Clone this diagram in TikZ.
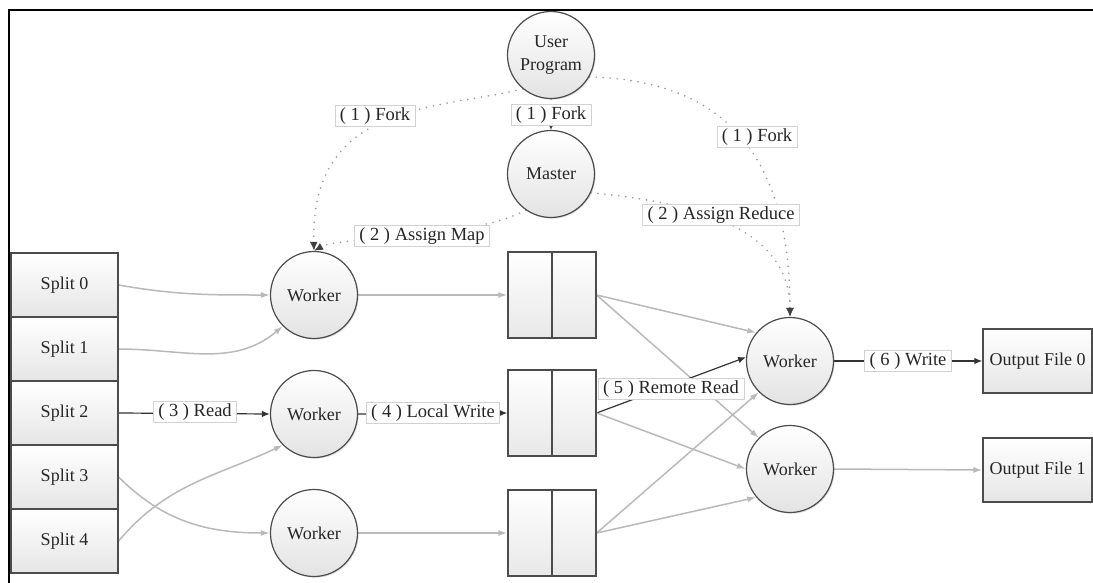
\documentclass[tikz,border=0pt]{standalone}
\usepackage{fontspec}
\setmainfont{Liberation Serif}
\usetikzlibrary{arrows.meta,shadows,backgrounds}
\begin{document}
\begin{tikzpicture}[x=1pt,y=-1pt,
  every node/.style={font=\fontsize{18}{23}\selectfont, text=black!85},
  proc/.style={circle, minimum size=87pt, inner sep=0pt, draw=black!70, line width=1.2pt,
    top color=white, bottom color=gray!22,
    drop shadow={shadow xshift=1.2pt,shadow yshift=-1.2pt,opacity=0.25}},
  splitbox/.style={rectangle, minimum width=107pt, minimum height=64pt, inner sep=0pt,
    draw=black!70, line width=1.3pt, top color=white, bottom color=gray!20},
  buf/.style={rectangle, minimum width=88pt, minimum height=86pt, inner sep=0pt,
    draw=black!70, line width=1.3pt, top color=white, bottom color=gray!18},
  outbox/.style={splitbox, minimum width=109pt},
  lab/.style={rectangle, draw=gray!35, line width=0.6pt, fill=white, inner xsep=5pt,
    inner ysep=2pt, font=\fontsize{18.5}{21}\selectfont},
  flow/.style={draw=gray!55, line width=1.5pt, -{Latex[length=9pt,width=6pt]}},
  mainline/.style={draw=black!80, line width=1.2pt, -{Latex[length=8pt,width=6.5pt]}},
  ctrl/.style={draw=gray!80, line width=1.8pt, dash pattern=on 0pt off 7pt, line cap=round,
    -{Latex[length=9pt,width=8pt,color=black!75]}},
  ctrlsmall/.style={ctrl, -{Latex[length=5pt,width=5pt,color=black!75]}}
]
\useasboundingbox (0,0) rectangle (1093,583);
\draw[line width=2.5pt] (9,583) -- (9,10) -- (1093,10);

% top
\node[proc, align=center] (up) at (551,55) {User\\Program};
\node[proc] (ma) at (551,174) {Master};

% splits
\node[splitbox] (s0) at (64.5,285) {Split 0};
\node[splitbox] (s1) at (64.5,349) {Split 1};
\node[splitbox] (s2) at (64.5,413) {Split 2};
\node[splitbox] (s3) at (64.5,477) {Split 3};
\node[splitbox] (s4) at (64.5,541) {Split 4};

% map workers
\node[proc] (w1) at (314,295) {Worker};
\node[proc] (w2) at (314,414) {Worker};
\node[proc] (w3) at (314,533) {Worker};

% buffers
\node[buf] (b1) at (552,295) {};
\node[buf] (b2) at (552,413) {};
\node[buf] (b3) at (552,533) {};
\draw[black!70, line width=1.8pt] (b1.north) -- (b1.south);
\draw[black!70, line width=1.8pt] (b2.north) -- (b2.south);
\draw[black!70, line width=1.8pt] (b3.north) -- (b3.south);

% reduce workers
\node[proc] (r1) at (790,361) {Worker};
\node[proc] (r2) at (790,469) {Worker};

% outputs
\node[outbox] (o0) at (1037.5,361) {Output File 0};
\node[outbox] (o1) at (1037.5,470) {Output File 1};

% labels
\node[lab] (f1) at (375,116) {( 1 ) Fork};
\node[lab] (f2) at (551,115) {( 1 ) Fork};
\node[lab] (f3) at (757,137) {( 1 ) Fork};
\node[lab] (am) at (422,236) {( 2 ) Assign Map};
\node[lab] (ar) at (721,215) {( 2 ) Assign Reduce};
\node[lab] (rd) at (195,412) {( 3 ) Read};
\node[lab] (lw) at (433,413) {( 4 ) Local Write};
\node[lab] (rr) at (671,389) {( 5 ) Remote Read};
\node[lab] (wr) at (908,361) {( 6 ) Write};

\begin{pgfonlayer}{background}
  % inputs
  \draw[flow] (s0.east) to[out=-10,in=180] (w1.west);
  \draw[flow] (s1.east) to[out=0,in=220] (w1.225);
  \draw[mainline] (s2.east) -- (w2.west);
  \draw[flow] (s3.east) to[out=-45,in=180] (w3.west);
  \draw[flow] (s4.east) to[out=50,in=205] (w2.225);
  % map outputs
  \draw[flow] (w1.east) -- (b1.west);
  \draw[mainline] (w2.east) -- (b2.west);
  \draw[flow] (w3.east) -- (b3.west);
  % shuffle
  \draw[flow] (b1.east) -- (r1.140);
  \draw[flow] (b1.east) -- (r2.135);
  \draw[mainline] (b2.east) -- (r1.175);
  \draw[flow] (b2.east) -- (r2.west);
  \draw[flow] (b3.east) -- (r1.225);
  \draw[flow] (b3.east) -- (r2.220);
  % outputs
  \draw[mainline] (r1.east) -- (o0.west);
  \draw[flow] (r2.east) -- (o1.west);
  % control
  \draw[ctrl] (up.230) .. controls (440,110) and (310,100) .. (w1.north);
  \draw[ctrl] (ma.235) .. controls (470,240) and (340,236) .. (w1.north);
  \draw[ctrl] (up.330) .. controls (720,80) and (790,150) .. (r1.north);
  \draw[ctrl] (ma.335) .. controls (660,200) and (790,215) .. (r1.north);
  \draw[ctrlsmall] (up.south) -- (ma.north);
\end{pgfonlayer}
\end{tikzpicture}
\end{document}
